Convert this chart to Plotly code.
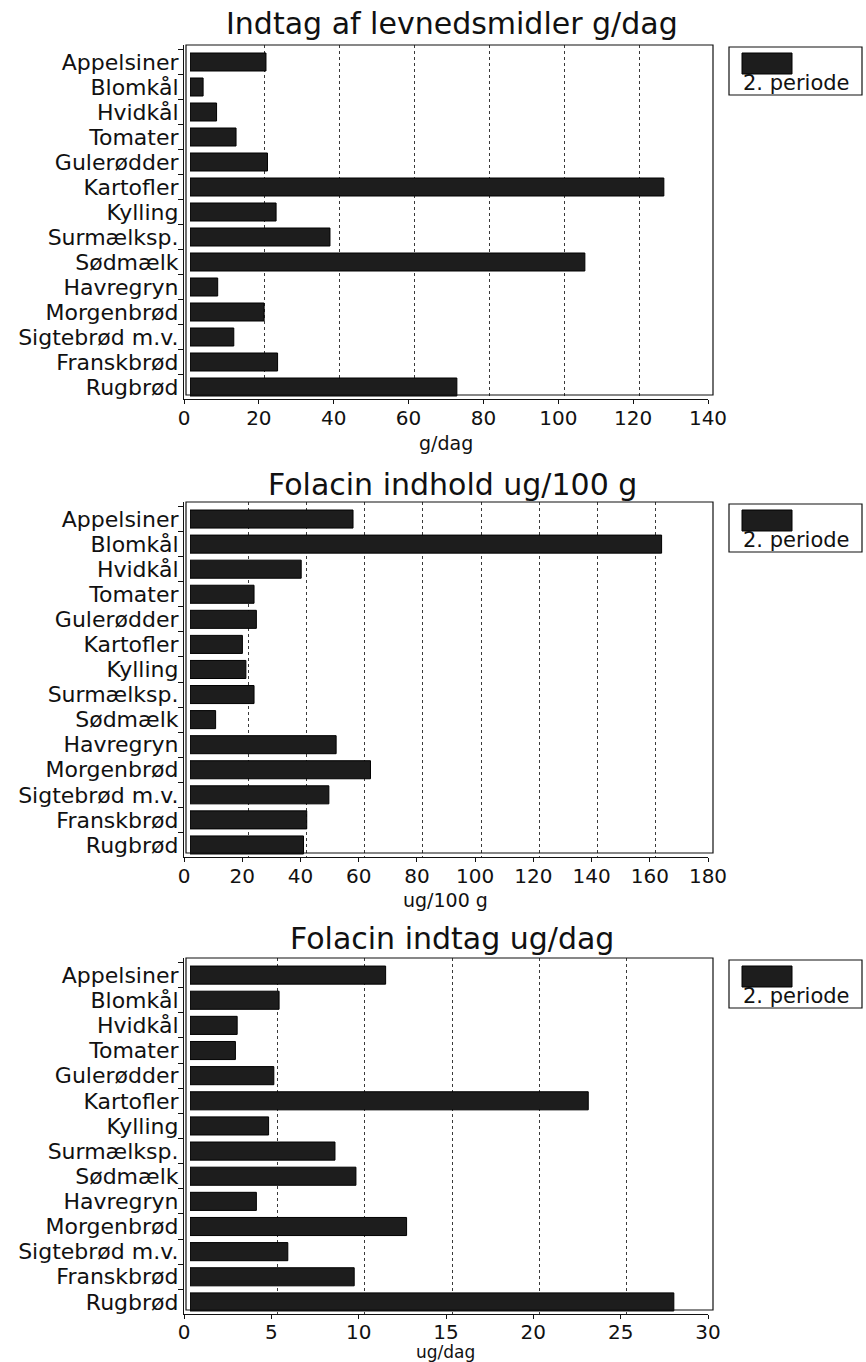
import plotly.graph_objects as go

W, H = 866, 1362

categories = ["Appelsiner", "Blomkål", "Hvidkål", "Tomater", "Gulerødder", "Kartofler",
              "Kylling", "Surmælksp.", "Sødmælk", "Havregryn", "Morgenbrød",
              "Sigtebrød m.v.", "Franskbrød", "Rugbrød"]

indtag_g_dag = [20.3, 3.5, 7.1, 12.3, 20.7, 126.6, 23.0, 37.4, 105.5, 7.4, 19.8, 11.7, 23.4, 71.3]
folacin_ug_100g = [56.0, 162.0, 38.2, 22.0, 22.8, 18.0, 19.2, 22.0, 8.8, 50.2, 62.0, 47.7, 40.1, 39.0]
folacin_ug_dag = [11.2, 5.1, 2.7, 2.6, 4.8, 22.8, 4.5, 8.3, 9.5, 3.8, 12.4, 5.6, 9.4, 27.7]

panel_titles = ["Indtag af levnedsmidler g/dag", "Folacin indhold ug/100 g", "Folacin indtag ug/dag"]
axis_titles = ["g/dag", "ug/100 g", "ug/dag"]
x_max = [140, 180, 30]
x_step = [20, 20, 5]
series_name = "2. periode"

FONT = "DejaVu Sans"
INK = "#111111"
BAR = "#1d1d1d"

# pixel layout of each panel: (box top, axis line)
panels = [(45, 399), (502, 857), (958, 1314)]
title_y = [23, 484, 938]
axis_title_y = [443, 900, 1352]
axis_title_size = [19, 19, 17]
tick_standoff = [-3, -3, -4]

front_x = (184, 708)   # tick-label axis
back_x = (190, 714)    # back wall: bars and grid
box_x = (186, 713)


def px(x):
    return x / W


def py(y):
    return 1 - y / H


fig = go.Figure()
shapes = []
annotations = []
values = [indtag_g_dag, folacin_ug_100g, folacin_ug_dag]

for i, (top, bottom) in enumerate(panels):
    fx = "x" if i == 0 else f"x{2 * i + 1}"
    bx = f"x{2 * i + 2}"
    yy = "y" if i == 0 else f"y{i + 1}"
    fkey = "xaxis" if i == 0 else f"xaxis{2 * i + 1}"
    bkey = f"xaxis{2 * i + 2}"
    ykey = "yaxis" if i == 0 else f"yaxis{i + 1}"

    # empty trace so the front (labelled) axis is drawn
    fig.add_trace(go.Scatter(x=[], y=[], xaxis=fx, yaxis=yy, showlegend=False,
                             hoverinfo="skip", mode="markers"))
    fig.add_trace(go.Bar(
        x=values[i], y=categories, orientation="h", name=series_name,
        xaxis=bx, yaxis=yy, width=0.72, showlegend=False,
        marker=dict(color=BAR, line=dict(color="#000000", width=1)),
    ))

    ydom = [py(bottom), py(top)]
    ticks = list(range(0, x_max[i] + 1, x_step[i]))

    fig.update_layout(**{
        fkey: dict(domain=[px(front_x[0]), px(front_x[1])], anchor=yy,
                   range=[0, x_max[i]], tickvals=ticks, ticks="outside", ticklen=4,
                   ticklabelstandoff=tick_standoff[i], automargin=False,
                   tickcolor=INK, showline=True, linecolor=INK, linewidth=1.2,
                   showgrid=False, zeroline=False, fixedrange=True,
                   tickfont=dict(family=FONT, size=20, color=INK)),
        bkey: dict(domain=[px(back_x[0]), px(back_x[1])], anchor=yy,
                   range=[0, x_max[i]], tickvals=ticks, showticklabels=False,
                   ticks="", showline=False, zeroline=False, automargin=False,
                   showgrid=True, gridcolor="#3a3a3a", gridwidth=1, griddash="dot"),
        ykey: dict(domain=ydom, anchor=fx, type="category",
                   categoryorder="array", categoryarray=categories,
                   tickmode="array", tickvals=categories, ticktext=categories,
                   range=[13.48, -0.68], tickson="boundaries", ticks="outside",
                   ticklen=5, tickcolor=INK, showline=True, linecolor=INK,
                   linewidth=1.2, showgrid=False, zeroline=False, automargin=False,
                   tickfont=dict(family=FONT, size=22, color=INK)),
    })

    # back wall frame
    shapes.append(dict(type="rect", xref="paper", yref="paper",
                       x0=px(box_x[0]), x1=px(box_x[1]), y0=py(bottom - 4), y1=py(top),
                       line=dict(color=INK, width=1.2)))

    # legend box with swatch
    shapes.append(dict(type="rect", xref="paper", yref="paper",
                       x0=px(729), x1=px(862), y0=py(top + 50), y1=py(top + 2),
                       line=dict(color=INK, width=1.2)))
    shapes.append(dict(type="rect", xref="paper", yref="paper",
                       x0=px(742), x1=px(792), y0=py(top + 29), y1=py(top + 8),
                       fillcolor=BAR, line=dict(color="#000000", width=1)))
    annotations.append(dict(text=series_name, xref="paper", yref="paper",
                            x=px(796), y=py(top + 38), showarrow=False,
                            xanchor="center", yanchor="middle",
                            font=dict(family=FONT, size=21, color=INK)))

    # panel title and axis title
    annotations.append(dict(text=panel_titles[i], xref="paper", yref="paper",
                            x=px(452), y=py(title_y[i]), showarrow=False,
                            xanchor="center", yanchor="middle",
                            font=dict(family=FONT, size=30, color=INK)))
    annotations.append(dict(text=axis_titles[i], xref="paper", yref="paper",
                            x=px(446), y=py(axis_title_y[i]), showarrow=False,
                            xanchor="center", yanchor="middle",
                            font=dict(family=FONT, size=axis_title_size[i], color=INK)))

fig.update_layout(
    width=W, height=H,
    margin=dict(l=0, r=0, t=0, b=0, autoexpand=False),
    paper_bgcolor="white", plot_bgcolor="rgba(0,0,0,0)",
    showlegend=False, bargap=0.28,
    shapes=shapes, annotations=annotations,
    font=dict(family=FONT, color=INK),
)

fig.write_html("out.html")
